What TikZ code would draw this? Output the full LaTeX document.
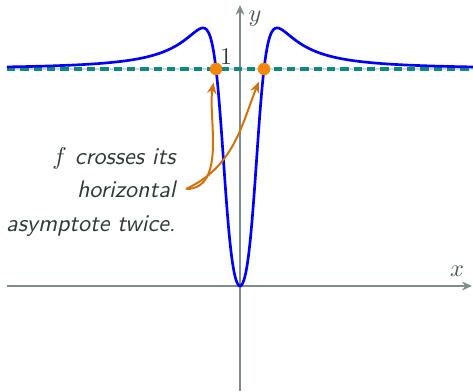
\documentclass[tikz,border=0pt]{standalone}
\usetikzlibrary{arrows.meta}
\definecolor{axisgray}{HTML}{7F8C8D}
\definecolor{labgray}{HTML}{4A5858}
\definecolor{txtgray}{HTML}{2E3B3B}
\definecolor{curveblue}{HTML}{0000FF}
\definecolor{asyteal}{HTML}{0F8A80}
\definecolor{asygray}{HTML}{D5D8D8}
\definecolor{dotorange}{HTML}{F5870F}
\definecolor{arrorange}{HTML}{D4720A}
\tikzset{
  axisline/.style={draw=axisgray, line width=0.8pt, -{Stealth[length=4.5pt,width=4pt]}},
  curveline/.style={draw=curveblue, line width=1.2pt},
  asyline/.style={draw=asyteal, line width=1.6pt, dash pattern=on 3.8pt off 2.2pt},
  dotmark/.style={circle, fill=dotorange, inner sep=0pt, minimum size=5.6pt},
  annarrow/.style={draw=arrorange, line width=0.9pt, -{Stealth[length=5pt,width=4.2pt]}, shorten >=3.2pt},
  axlabel/.style={text=labgray, inner sep=0pt, font=\fontsize{10.8}{13}\selectfont}
}
\begin{document}
\begin{tikzpicture}[x=0.45pt, y=-0.45pt]
\useasboundingbox (0,0) rectangle (473,391);
% axes
\coordinate (xl) at (7,286);
\coordinate (xr) at (472,286);
\coordinate (yb) at (240,391);
\coordinate (yt) at (240,5);
\draw[axisline] (xl) -- (xr);
\draw[axisline] (yb) -- (yt);
\node[axlabel] (xlab) at (457,271) {$x$};
\node[axlabel] (ylab) at (255,19) {$y$};
% asymptote
\coordinate (al) at (7,69);
\coordinate (ar) at (473,69);
\draw[asygray, line width=1.3pt] (al) -- (ar);
\draw[asyline] (al) -- (ar);
% curve
\draw[curveline, smooth, samples=400, domain=-9.71:9.71, variable=\t]
  plot ({240+24*\t}, {286-217*(\t*\t*(\t*\t+0.9)/(\t*\t*\t*\t+0.9))});
% one label
\node[text=txtgray, inner sep=0pt, font=\fontsize{10.8}{13}\selectfont] (one) at (226,57) {1};
% dots
\node[dotmark] (d1) at (216,69) {};
\node[dotmark] (d2) at (264,69) {};
% annotation
\node[text=txtgray, align=right, anchor=east, inner sep=0pt,
      font=\sffamily\itshape\fontsize{10.8}{15}\selectfont] (ann) at (176,192)
  {$f$\ crosses its\\ horizontal\\ asymptote twice.};
\coordinate (as) at (186,189);
\draw[annarrow] (as) to[out=0, in=-100, looseness=0.9] (d1);
\draw[annarrow] (as) to[out=25, in=-112] (d2);
\end{tikzpicture}
\end{document}
